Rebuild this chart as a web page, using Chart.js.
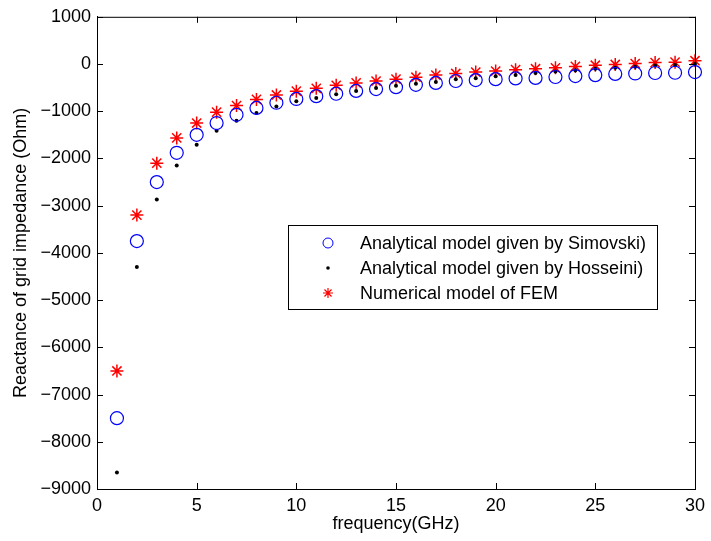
<!DOCTYPE html>
<html>
<head>
<meta charset="utf-8">
<script src="https://cdn.jsdelivr.net/npm/chart.js@4/dist/chart.umd.min.js"></script>
<style>
  html, body { margin: 0; padding: 0; background: #fff; }
  #wrap { width: 711px; height: 541px; }
</style>
</head>
<body>
<div id="wrap"><canvas id="chart"></canvas></div>
<script>
// Data definitions
const freqGHz = [1, 2, 3, 4, 5, 6, 7, 8, 9, 10, 11, 12, 13, 14, 15, 16, 17, 18, 19, 20, 21, 22, 23, 24, 25, 26, 27, 28, 29, 30];
const simovski = [-7500, -3750, -2500, -1880, -1500, -1250, -1075, -930, -820, -740, -680, -630, -570, -530, -490, -440, -400, -360, -340, -320, -305, -295, -275, -255, -235, -210, -200, -190, -185, -170];
const hosseini = [-8650, -4300, -2870, -2150, -1710, -1415, -1200, -1035, -900, -790, -720, -640, -570, -510, -460, -420, -380, -320, -300, -260, -230, -190, -160, -130, -100, -80, -60, -30, -20, 0];
const fem = [-6500, -3200, -2100, -1565, -1250, -1020, -880, -750, -655, -575, -515, -450, -400, -360, -320, -280, -235, -200, -170, -150, -120, -100, -80, -50, -25, -10, 10, 30, 40, 70];
const seriesLabels = ['Analytical model given by Simovski)', 'Analytical model given by Hosseini)', 'Numerical model of FEM'];

const FONT = 'Liberation Sans, Arial, Helvetica, sans-serif';

function toPoints(ys) {
  return freqGHz.map((f, i) => ({ x: f, y: ys[i] }));
}

// matlab style box + inward ticks
const boxTicks = {
  id: 'boxTicks',
  afterDatasetsDraw(chart) {
    const { ctx, chartArea: a, scales } = chart;
    ctx.save();
    ctx.strokeStyle = '#000';
    ctx.lineWidth = 1;
    ctx.strokeRect(a.left + 0.5, a.top + 0.5, a.right - a.left, a.bottom - a.top);
    const len = 6;
    ctx.beginPath();
    scales.x.ticks.forEach(t => {
      const px = Math.round(scales.x.getPixelForValue(t.value)) + 0.5;
      ctx.moveTo(px, a.bottom); ctx.lineTo(px, a.bottom - len);
      ctx.moveTo(px, a.top); ctx.lineTo(px, a.top + len);
    });
    scales.y.ticks.forEach(t => {
      const py = Math.round(scales.y.getPixelForValue(t.value)) + 0.5;
      ctx.moveTo(a.left, py); ctx.lineTo(a.left + len, py);
      ctx.moveTo(a.right, py); ctx.lineTo(a.right - len, py);
    });
    ctx.stroke();
    ctx.restore();
  }
};

// legend box inside the plot
const innerLegend = {
  id: 'innerLegend',
  afterDraw(chart) {
    const { ctx } = chart;
    const left = 288, top = 225, w = 369, h = 84;
    ctx.save();
    ctx.fillStyle = '#fff';
    ctx.fillRect(left, top, w, h);
    ctx.strokeStyle = '#000';
    ctx.lineWidth = 1;
    ctx.strokeRect(left + 0.5, top + 0.5, w, h);
    const rows = [243, 268, 293];
    const marks = [
      { pointStyle: 'circle', radius: 5, borderWidth: 1, stroke: '#0000ff', fill: 'rgba(0,0,0,0)' },
      { pointStyle: 'circle', radius: 1.8, borderWidth: 0, stroke: '#000', fill: '#000' },
      { pointStyle: 'star', radius: 5, borderWidth: 1.2, stroke: '#ff0000', fill: '#ff0000' }
    ];
    chart.data.datasets.forEach((ds, i) => {
      const m = marks[i];
      ctx.strokeStyle = m.stroke;
      ctx.fillStyle = m.fill;
      ctx.lineWidth = m.borderWidth;
      Chart.helpers.drawPoint(ctx, { pointStyle: m.pointStyle, radius: m.radius, rotation: 0, borderWidth: m.borderWidth }, left + 40, rows[i]);
      ctx.fillStyle = '#000';
      ctx.font = '18px ' + FONT;
      ctx.textBaseline = 'middle';
      ctx.textAlign = 'left';
      ctx.fillText(ds.label, left + 72, rows[i] + 1);
    });
    ctx.restore();
  }
};

const chartConfig = {
  type: 'scatter',
  data: {
    datasets: [
      {
        label: seriesLabels[0],
        data: toPoints(simovski),
        pointStyle: 'circle',
        pointRadius: 6.5,
        pointBorderWidth: 1.2,
        borderColor: '#0000ff',
        backgroundColor: 'rgba(0,0,0,0)',
        clip: false
      },
      {
        label: seriesLabels[1],
        data: toPoints(hosseini),
        pointStyle: 'circle',
        pointRadius: 2,
        pointBorderWidth: 0,
        borderColor: '#000',
        backgroundColor: '#000',
        clip: false
      },
      {
        label: seriesLabels[2],
        data: toPoints(fem),
        pointStyle: 'star',
        pointRadius: 6.5,
        pointBorderWidth: 1.5,
        borderColor: '#ff0000',
        backgroundColor: '#ff0000',
        clip: false
      }
    ]
  },
  options: {
    responsive: true,
    maintainAspectRatio: false,
    animation: false,
    layout: { padding: { top: 15, right: 14, left: 0, bottom: 0 } },
    plugins: {
      legend: { display: false },
      tooltip: { enabled: false }
    },
    elements: { point: { hoverRadius: 6.5 } },
    scales: {
      x: {
        type: 'linear',
        min: 0,
        max: 30,
        ticks: {
          stepSize: 5,
          color: '#000',
          padding: 6,
          maxRotation: 0,
          font: { family: FONT, size: 18 }
        },
        grid: { display: false, drawTicks: false },
        border: { display: true, color: '#000' },
        title: {
          display: true,
          text: 'frequency(GHz)',
          color: '#000',
          font: { family: FONT, size: 18 },
          padding: { top: 0, bottom: 6 }
        },
        afterFit(scale) { scale.height = 52; }
      },
      y: {
        type: 'linear',
        min: -9000,
        max: 1000,
        ticks: {
          stepSize: 1000,
          color: '#000',
          padding: 6,
          font: { family: FONT, size: 18 },
          callback: v => String(v).replace('-', '\u2212')
        },
        grid: { display: false, drawTicks: false },
        border: { display: true, color: '#000' },
        title: {
          display: true,
          text: 'Reactance of grid impedance (Ohm)',
          color: '#000',
          font: { family: FONT, size: 18 },
          padding: { top: 10, bottom: 0 }
        },
        afterFit(scale) { scale.width = 97; }
      }
    }
  },
  plugins: [boxTicks, innerLegend]
};

const chart = new Chart(document.getElementById('chart').getContext('2d'), chartConfig);
</script>
</body>
</html>
